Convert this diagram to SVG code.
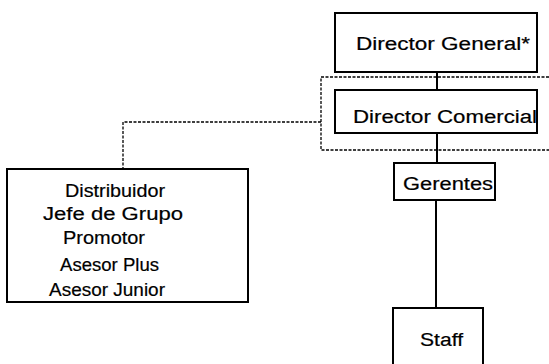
<svg xmlns="http://www.w3.org/2000/svg" width="549" height="364" viewBox="0 0 549 364">
<style>
.box{fill:#fff;stroke:#000;stroke-width:2}
.t{font-family:"Liberation Sans",Arial,sans-serif;font-size:18px;fill:#000;stroke:#000;stroke-width:0.2}
.solid{fill:none;stroke:#000;stroke-width:2}
.dash{fill:none;stroke:#000;stroke-width:1.3;stroke-dasharray:3 1.5}
</style>
<rect width="549" height="364" fill="#fff"/>
<g id="connectors">
<path class="dash" d="M549,77 H321 V150 H549"/>
<path class="dash" d="M321,122 H123 V169"/>
<path class="solid" d="M437,72 V90 M437,133 V163 M436,200 V308"/>
</g>
<g id="director-general">
<rect class="box" x="335" y="13" width="202" height="59"/>
<text class="t" x="356" y="50" textLength="174" lengthAdjust="spacingAndGlyphs">Director General*</text>
</g>
<g id="director-comercial">
<rect class="box" x="335" y="90" width="202" height="43"/>
<text class="t" x="353" y="123" textLength="184" lengthAdjust="spacingAndGlyphs">Director Comercial</text>
</g>
<g id="gerentes">
<rect class="box" x="394" y="163" width="101" height="37"/>
<text class="t" x="403" y="190" textLength="90" lengthAdjust="spacingAndGlyphs">Gerentes</text>
</g>
<g id="staff">
<rect class="box" x="393" y="308" width="90" height="70"/>
<text class="t" x="420" y="346" textLength="43" lengthAdjust="spacingAndGlyphs">Staff</text>
</g>
<g id="distribuidores">
<rect class="box" x="7" y="169" width="241" height="133"/>
<text class="t" x="65" y="197" textLength="100" lengthAdjust="spacingAndGlyphs">Distribuidor</text>
<text class="t" x="43" y="220" textLength="140" lengthAdjust="spacingAndGlyphs">Jefe de Grupo</text>
<text class="t" x="63" y="244" textLength="82" lengthAdjust="spacingAndGlyphs">Promotor</text>
<text class="t" x="60" y="271" textLength="99" lengthAdjust="spacingAndGlyphs">Asesor Plus</text>
<text class="t" x="49" y="296" textLength="116" lengthAdjust="spacingAndGlyphs">Asesor Junior</text>
</g>
</svg>
